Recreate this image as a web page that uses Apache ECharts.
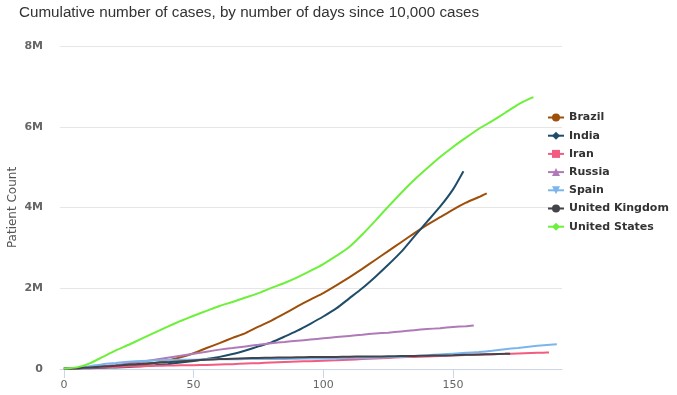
<!DOCTYPE html>
<html>
<head>
<meta charset="utf-8">
<script src="https://cdn.jsdelivr.net/npm/echarts@6/dist/echarts.min.js"></script>
<style>
html,body{margin:0;padding:0;background:#fff;}
#chart{width:677px;height:395px;}
</style>
</head>
<body>
<div id="chart"></div>
<script>
// Values in millions of cases, [day since 10,000 cases, cumulative cases]
const titleText = 'Cumulative number of cases, by number of days since 10,000 cases';
const seriesNames = ['Brazil', 'India', 'Iran', 'Russia', 'Spain', 'United Kingdom', 'United States'];
const xTickValues = [0, 50, 100, 150];
const yTickValues = [0, 2, 4, 6, 8];

const brazil = [[0,0.01],[5,0.02],[10,0.03],[15,0.04],[20,0.06],[25,0.08],[30,0.11],[35,0.15],[40,0.21],[45,0.29],[50,0.39],[55,0.52],[60,0.64],[65,0.77],[70,0.89],[75,1.05],[80,1.20],[85,1.37],[90,1.55],[95,1.72],[100,1.88],[105,2.07],[110,2.27],[115,2.48],[120,2.70],[125,2.92],[130,3.14],[135,3.36],[140,3.57],[145,3.76],[150,3.95],[155,4.12],[160,4.26],[163,4.35]];
const india = [[0,0.01],[5,0.015],[10,0.02],[15,0.03],[20,0.04],[25,0.05],[30,0.07],[35,0.09],[40,0.12],[45,0.16],[50,0.20],[55,0.25],[60,0.30],[65,0.37],[70,0.46],[75,0.56],[80,0.66],[85,0.80],[90,0.95],[95,1.12],[100,1.30],[105,1.50],[110,1.75],[115,2.00],[120,2.28],[125,2.58],[130,2.90],[135,3.28],[140,3.65],[145,4.02],[150,4.45],[154,4.90]];
const iran = [[0,0.01],[5,0.02],[10,0.03],[15,0.04],[20,0.05],[25,0.06],[30,0.07],[35,0.08],[40,0.085],[45,0.09],[50,0.095],[55,0.10],[60,0.11],[65,0.12],[70,0.135],[75,0.145],[80,0.16],[85,0.175],[90,0.185],[95,0.195],[100,0.205],[105,0.215],[110,0.23],[115,0.245],[120,0.26],[125,0.275],[130,0.29],[135,0.30],[140,0.31],[145,0.32],[150,0.335],[155,0.345],[160,0.355],[165,0.365],[170,0.375],[175,0.385],[180,0.395],[185,0.405],[187,0.41]];
const russia = [[0,0.01],[5,0.02],[10,0.04],[15,0.07],[20,0.10],[25,0.14],[30,0.18],[35,0.23],[40,0.28],[45,0.33],[50,0.38],[55,0.43],[60,0.48],[65,0.52],[70,0.56],[75,0.60],[80,0.64],[85,0.67],[90,0.70],[95,0.73],[100,0.76],[105,0.79],[110,0.82],[115,0.85],[120,0.88],[125,0.90],[130,0.93],[135,0.96],[140,0.99],[145,1.01],[150,1.04],[155,1.06],[158,1.08]];
const spain = [[0,0.01],[5,0.03],[10,0.07],[15,0.12],[20,0.15],[25,0.18],[30,0.20],[35,0.21],[40,0.22],[45,0.23],[50,0.23],[55,0.24],[60,0.24],[65,0.24],[70,0.245],[75,0.25],[80,0.25],[85,0.25],[90,0.255],[95,0.26],[100,0.26],[105,0.26],[110,0.27],[115,0.27],[120,0.28],[125,0.29],[130,0.30],[135,0.32],[140,0.34],[145,0.36],[150,0.38],[155,0.40],[160,0.42],[165,0.45],[170,0.49],[175,0.52],[180,0.56],[185,0.59],[190,0.61]];
const unitedKingdom = [[0,0.01],[5,0.02],[10,0.04],[15,0.06],[20,0.08],[25,0.11],[30,0.13],[35,0.15],[40,0.17],[45,0.19],[50,0.21],[55,0.23],[60,0.245],[65,0.255],[70,0.265],[75,0.275],[80,0.28],[85,0.285],[90,0.29],[95,0.295],[100,0.30],[105,0.30],[110,0.305],[115,0.31],[120,0.31],[125,0.315],[130,0.32],[135,0.325],[140,0.33],[145,0.335],[150,0.34],[155,0.35],[160,0.36],[165,0.365],[170,0.375],[172,0.38]];
const unitedStates = [[0,0.01],[5,0.04],[10,0.14],[15,0.30],[20,0.46],[25,0.60],[30,0.75],[35,0.90],[40,1.05],[45,1.19],[50,1.32],[55,1.44],[60,1.56],[65,1.66],[70,1.77],[75,1.88],[80,2.01],[85,2.13],[90,2.27],[95,2.43],[100,2.60],[105,2.80],[110,3.02],[115,3.33],[120,3.67],[125,4.02],[130,4.36],[135,4.68],[140,4.97],[145,5.25],[150,5.50],[155,5.73],[160,5.95],[165,6.14],[170,6.34],[175,6.55],[180,6.71],[181,6.73]];

const seriesData = [brazil, india, iran, russia, spain, unitedKingdom, unitedStates];
const seriesColors = ['#9e4f0a', '#1f4d69', '#f15c80', '#b07ab8', '#7cb5ec', '#434348', '#6cf03a'];
const seriesSymbols = ['circle', 'diamond', 'rect', 'triangle', 'path://M0,0L10,0L5,10Z', 'circle', 'diamond'];

const chart = echarts.init(document.getElementById('chart'), null, {renderer: 'canvas'});
chart.setOption({
  animation: false,
  backgroundColor: '#ffffff',
  title: {
    text: titleText,
    left: 19, top: 5, padding: 0,
    textStyle: {fontFamily: 'Liberation Sans', fontSize: 15.2, fontWeight: 'normal', color: '#333333'}
  },
  legend: {
    orient: 'vertical',
    left: 547, top: 112, padding: 0,
    itemWidth: 16, itemHeight: 10, itemGap: 7.2,
    data: seriesNames,
    textStyle: {fontFamily: 'DejaVu Sans', fontSize: 11, fontWeight: 'bold', color: '#333333'}
  },
  grid: {left: 60, right: 115, top: 46, bottom: 26, containLabel: false, outerBoundsMode: 'none'},
  xAxis: {
    type: 'value',
    min: -1.5, max: 192,
    axisLine: {show: true, lineStyle: {color: '#ccd6eb', width: 1}},
    axisTick: {show: true, length: 9, lineStyle: {color: '#ccd6eb'}, customValues: xTickValues},
    axisLabel: {customValues: xTickValues, color: '#666666', fontFamily: 'DejaVu Sans', fontSize: 11, margin: 11},
    splitLine: {show: false}
  },
  yAxis: {
    type: 'value',
    min: 0, max: 8, interval: 2,
    name: 'Patient Count',
    nameLocation: 'middle',
    nameGap: 41,
    nameMoveOverlap: false,
    nameTextStyle: {color: '#555555', fontFamily: 'DejaVu Sans', fontSize: 12},
    axisLine: {show: false},
    axisTick: {show: false},
    axisLabel: {color: '#666666', fontFamily: 'DejaVu Sans', fontSize: 11, fontWeight: 'bold', margin: 17,
      formatter: function (v) { return v === 0 ? '0' : v + 'M'; }},
    splitLine: {show: true, lineStyle: {color: '#e6e6e6', width: 1}}
  },
  series: seriesNames.map(function (name, i) {
    return {
      name: name,
      type: 'line',
      data: seriesData[i],
      color: seriesColors[i],
      symbol: seriesSymbols[i],
      showSymbol: false,
      smooth: 0.2,
      lineStyle: {width: 2, color: seriesColors[i]},
      itemStyle: {color: seriesColors[i]}
    };
  })
});
</script>
</body>
</html>
